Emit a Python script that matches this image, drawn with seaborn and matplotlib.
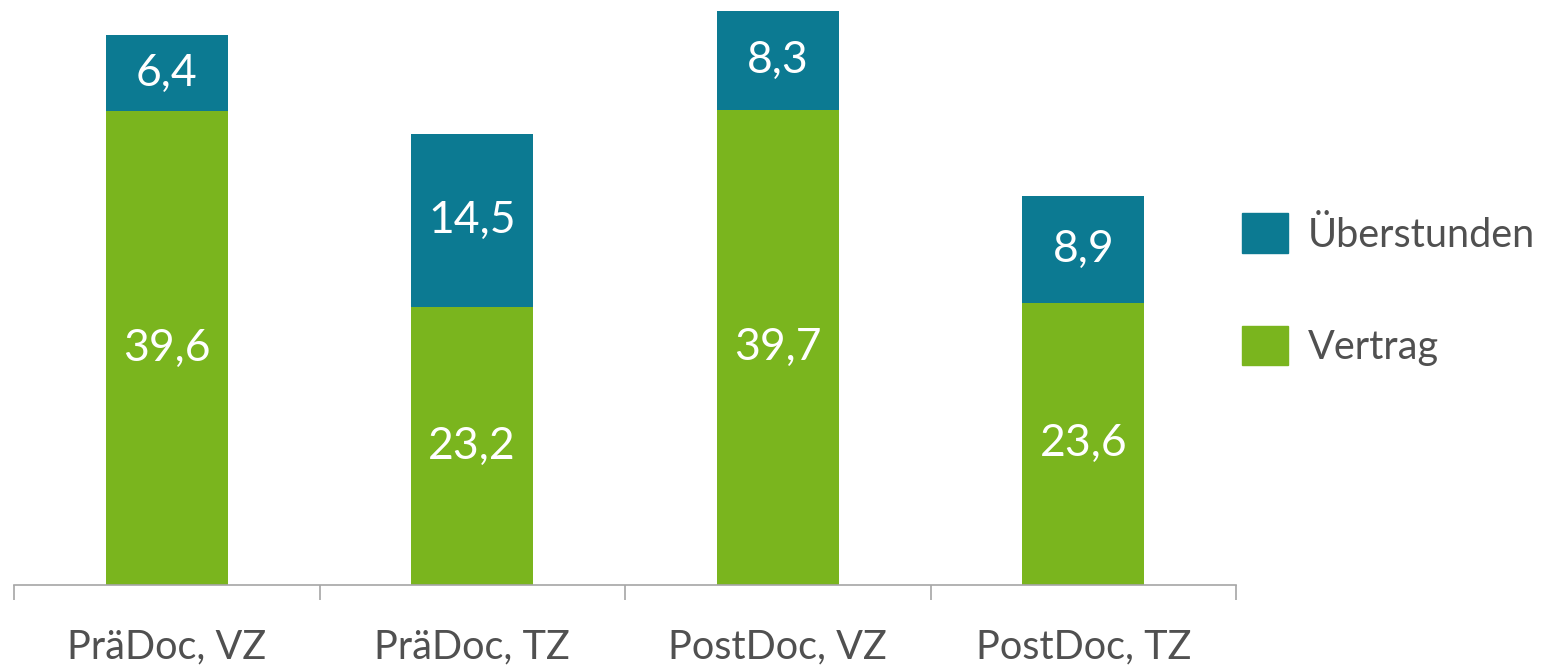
import numpy as np
import pandas as pd
import seaborn as sns
import matplotlib.pyplot as plt
from matplotlib.patches import Patch

# values (hours per week)
groups = ['PräDoc, VZ', 'PräDoc, TZ', 'PostDoc, VZ', 'PostDoc, TZ']
vertrag = [39.6, 23.2, 39.7, 23.6]
ueberstunden = [6.4, 14.5, 8.3, 8.9]

teal = '#0C7A92'
green = '#7AB51E'
grey = '#A6A6A6'
textcol = '#505050'

df = pd.DataFrame({'group': groups, 'Vertrag': vertrag, 'Überstunden': ueberstunden})
df['total'] = df['Vertrag'] + df['Überstunden']

sns.set_style('white')
plt.rcParams['font.family'] = ['Lato', 'DejaVu Sans']

fig, ax = plt.subplots(figsize=(15.49, 6.7), dpi=100)
fig.subplots_adjust(left=14/1549, right=1236/1549, bottom=85/670, top=1.0)

# totals first (teal), contract hours drawn over them (green)
sns.barplot(data=df, x='group', y='total', color=teal, width=0.4,
            saturation=1, linewidth=0, ax=ax)
sns.barplot(data=df, x='group', y='Vertrag', color=green, width=0.4,
            saturation=1, linewidth=0, ax=ax)

fmt = lambda v: f'{v:.1f}'.replace('.', ',')
for i, (v, u) in enumerate(zip(vertrag, ueberstunden)):
    ax.text(i, v / 2, fmt(v), ha='center', va='center', color='white', fontsize=32)
    ax.text(i, v + u / 2, fmt(u), ha='center', va='center', color='white', fontsize=32)

ax.set_xlim(-0.5, 3.5)
ax.set_ylim(0, 48.9)
ax.set_xlabel('')
ax.set_ylabel('')
ax.set_yticks([])
for s in ['top', 'right', 'left']:
    ax.spines[s].set_visible(False)
ax.spines['bottom'].set_color(grey)
ax.spines['bottom'].set_linewidth(1.2)

ax.set_xticks(np.arange(-0.5, 4, 1), minor=True)
ax.tick_params(axis='x', which='minor', bottom=True, length=11, width=1.2,
               color=grey, direction='out')
ax.tick_params(axis='x', which='major', length=0, pad=31, labelsize=28.5,
               labelcolor=textcol)

handles = [Patch(color=teal, label='Überstunden'), Patch(color=green, label='Vertrag')]
ax.legend(handles=handles, loc='center left', bbox_to_anchor=(1.005, 0.505),
          frameon=False, fontsize=28.5, labelcolor=textcol, handlelength=1.16,
          handleheight=1.16, handletextpad=0.5, labelspacing=1.82,
          borderaxespad=0, borderpad=0)

fig.savefig('out.png', dpi=100)
